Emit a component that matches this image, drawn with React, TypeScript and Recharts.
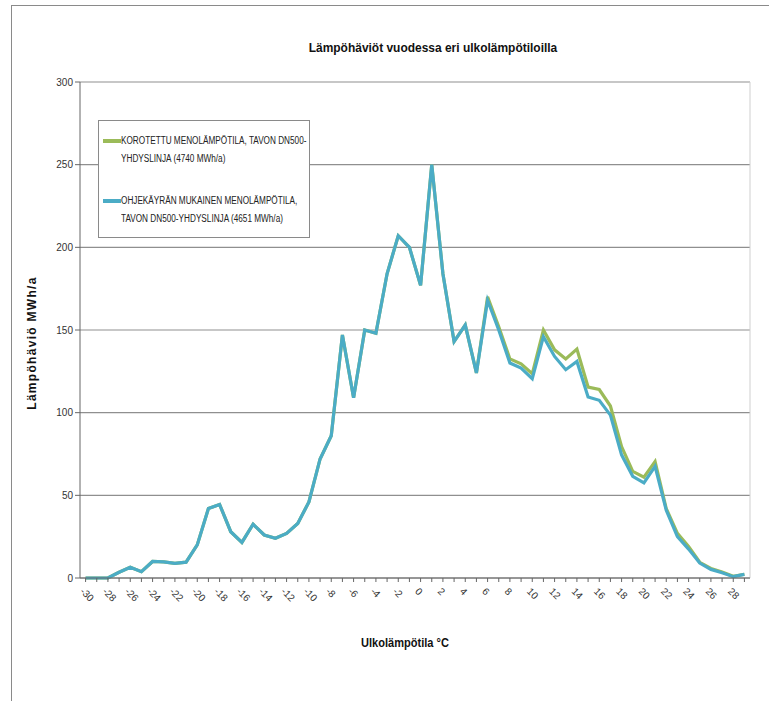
import { LineChart, Line, XAxis, YAxis, CartesianGrid, ReferenceLine } from "recharts";

const temps = [
  -30, -29, -28, -27, -26, -25, -24, -23, -22, -21, -20, -19, -18, -17, -16, -15, -14, -13, -12, -11,
  -10, -9, -8, -7, -6, -5, -4, -3, -2, -1, 0, 1, 2, 3, 4, 5, 6, 7, 8, 9,
  10, 11, 12, 13, 14, 15, 16, 17, 18, 19, 20, 21, 22, 23, 24, 25, 26, 27, 28, 29,
];

// ohjekäyrän mukainen menolämpötila (blue)
const ohjeValues = [
  0, 0, 0, 3.5, 6.5, 3.8, 10, 9.8, 8.8, 9.6, 20, 42, 44.5, 28, 21.5, 32.5, 26, 24, 27, 33,
  46, 72, 86, 147, 109, 150, 148, 184, 207, 200, 177, 250, 184, 143, 153, 124, 168, 150, 130, 127,
  120.5, 146, 134, 126, 131, 109.5, 107.5, 98.5, 74.5, 61.5, 57.5, 67.5, 41, 25, 17.5, 9, 5.2, 3.2, 0.8, 2.2,
];

// korotettu menolämpötila (green)
const korotettuValues = [
  0, 0, 0, 3.5, 6.5, 3.8, 10, 9.8, 8.8, 9.6, 20, 42, 44.5, 28, 21.5, 32.5, 26, 24, 27, 33,
  46, 72, 86, 147, 109, 150, 148, 184, 207, 200, 177, 250, 184, 143, 153, 124, 170, 152, 132.5, 129.5,
  123.5, 150, 138, 132.5, 138.5, 115.5, 114, 104, 79.5, 64.5, 61, 70.5, 42, 27, 19, 9.5, 5.8, 3.6, 1, 2.3,
];

const yTicks = [0, 50, 100, 150, 200, 250, 300];

const data = temps.map((t, i) => ({ t, ohje: ohjeValues[i], korotettu: korotettuValues[i] }));

const sans = '"Liberation Sans", Arial, sans-serif';

function XTick({ x, y, payload }: any) {
  const v = payload.value as number;
  return (
    <g>
      <line x1={x} x2={x} y1={y - 8} y2={y - 4} stroke="#666" />
      {v % 2 === 0 && (
        <text
          x={x - 6}
          y={y + 6}
          transform={`rotate(45 ${x - 6} ${y + 6})`}
          fontSize={10}
          fontFamily={sans}
          fill="#333"
          textAnchor="start"
        >
          {v}
        </text>
      )}
    </g>
  );
}

const legendItems = [
  { color: "#9BBB59", lines: ["KOROTETTU MENOLÄMPÖTILA, TAVON DN500-", "YHDYSLINJA (4740 MWh/a)"] },
  { color: "#4BACC6", lines: ["OHJEKÄYRÄN MUKAINEN MENOLÄMPÖTILA,", "TAVON DN500-YHDYSLINJA (4651 MWh/a)"] },
];

export default function App() {
  return (
    <div style={{ position: "absolute", left: 0, top: 0, width: 769, height: 706, background: "#fff" }}>
      <div
        style={{
          position: "absolute",
          left: 11,
          top: 5,
          width: 758,
          height: 695,
          borderTop: "1px solid #8a8a8a",
          borderLeft: "1px solid #8a8a8a",
        }}
      />
      <div
        style={{
          position: "absolute",
          left: 433,
          top: 47,
          transform: "translate(-50%, -50%) scaleX(0.92)",
          whiteSpace: "nowrap",
          fontFamily: sans,
          fontWeight: "bold",
          fontSize: 13,
          color: "#111",
        }}
      >
        Lämpöhäviöt vuodessa eri ulkolämpötiloilla
      </div>
      <LineChart width={769} height={706} data={data} margin={{ top: 82, right: 19, left: 40, bottom: 88 }}>
        <CartesianGrid horizontal vertical={false} stroke="#8f8f8f" strokeWidth={1.2} />
        <XAxis
          dataKey="t"
          type="number"
          domain={[-30.5, 29.5]}
          ticks={temps}
          interval={0}
          height={40}
          tick={<XTick />}
          tickLine={false}
          axisLine={{ stroke: "#666" }}
        />
        <YAxis
          domain={[0, 300]}
          ticks={yTicks}
          width={40}
          tickSize={5}
          tickLine={{ stroke: "#666" }}
          axisLine={{ stroke: "#666" }}
          tick={{ fontSize: 10, fontFamily: sans, fill: "#333" }}
        />
        <ReferenceLine x={29.5} stroke="#cfcfcf" />
        <Line
          dataKey="korotettu"
          stroke="#9BBB59"
          strokeWidth={3.2}
          dot={false}
          isAnimationActive={false}
        />
        <Line dataKey="ohje" stroke="#4BACC6" strokeWidth={3.2} dot={false} isAnimationActive={false} />
      </LineChart>
      <div
        style={{
          position: "absolute",
          left: 98,
          top: 120,
          width: 212,
          height: 118,
          border: "1px solid #8a8a8a",
          background: "#fff",
          fontFamily: sans,
          fontSize: 10,
          color: "#222",
          boxSizing: "border-box",
        }}
      >
        {legendItems.map((item, i) => (
          <div key={i} style={{ position: "absolute", left: 4, top: 11 + i * 60, display: "flex" }}>
            <div style={{ width: 18, height: 4, background: item.color, marginTop: 7 }} />
            <div
              style={{
                lineHeight: "18px",
                whiteSpace: "nowrap",
                transform: "scaleX(0.82)",
                transformOrigin: "left top",
              }}
            >
              {item.lines.map((l, j) => (
                <div key={j}>{l}</div>
              ))}
            </div>
          </div>
        ))}
      </div>
      <div
        style={{
          position: "absolute",
          left: 32,
          top: 343,
          transform: "translate(-50%, -50%) rotate(-90deg)",
          whiteSpace: "nowrap",
          fontFamily: sans,
          fontWeight: "bold",
          fontSize: 12,
          letterSpacing: 1.3,
          color: "#111",
        }}
      >
        Lämpöhäviö MWh/a
      </div>
      <div
        style={{
          position: "absolute",
          left: 405,
          top: 643,
          transform: "translate(-50%, -50%) scaleX(0.92)",
          whiteSpace: "nowrap",
          fontFamily: sans,
          fontWeight: "bold",
          fontSize: 12,
          color: "#111",
        }}
      >
        Ulkolämpötila °C
      </div>
    </div>
  );
}
